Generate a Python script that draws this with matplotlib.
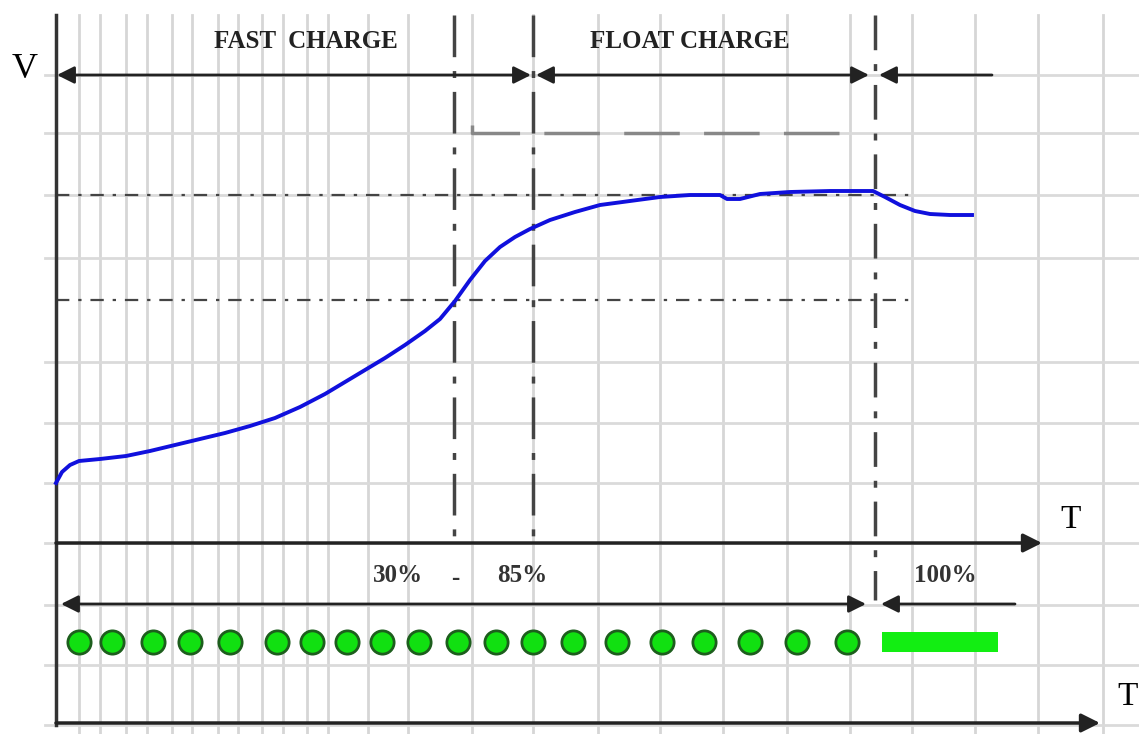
import matplotlib.pyplot as plt
import numpy as np

# chart units: x = time position, y = level (drawn top-down like the original sketch)
grid_x = [79, 100, 126, 147, 172, 192, 218, 238, 262, 283, 307, 328, 368, 408, 472,
          533, 598, 660, 723, 787, 850, 912, 975, 1038, 1103]
grid_y = [75, 133, 195, 258, 362, 423, 483, 543, 605, 665, 725]

curve_t = [56, 62, 70, 79, 100, 126, 150, 175, 200, 225, 250, 275, 300, 325, 345, 365,
           385, 405, 425, 440, 455, 470, 485, 500, 515, 530, 550, 575, 600, 630, 660,
           690, 720, 727, 740, 748, 760, 790, 830, 873, 885, 900, 915, 930, 950, 972]
curve_v = [483, 472, 465, 461, 459, 456, 451, 445, 439, 433, 426, 418, 407, 394, 382, 370,
           358, 345, 331, 319, 301, 280, 261, 247, 237, 229, 220, 212, 205, 201, 197,
           195, 195, 199, 199, 197, 194, 192, 191, 191, 197, 205, 211, 214, 215, 215]

phase_t = [454, 533, 875]       # 30%, 85%, 100% boundaries
level_v = [195, 300]            # dash-dot reference levels
led_t = [79, 112, 153, 190, 230, 277, 312, 347, 382, 419, 458, 496, 533, 573, 617,
         662, 704, 750, 797, 847]
led_row = 642

fig = plt.figure(figsize=(11.39, 7.34), dpi=100)
ax = fig.add_axes([0, 0, 1, 1])
ax.set_xlim(0, 1139)
ax.set_ylim(734, 0)
ax.axis('off')

# background grid
for gx in grid_x:
    ax.plot([gx, gx], [15, 734], color='#d6d6d6', lw=2, zorder=0)
for gy in grid_y:
    ax.plot([45, 1139], [gy, gy], color='#dadada', lw=2, zorder=0)

# axes
ax.plot([56, 56], [15, 725], color='#333333', lw=2.5, zorder=3)
arr = dict(arrowstyle='-|>', color='#222222', lw=2.5, mutation_scale=28, shrinkA=0, shrinkB=0)
ax.annotate('', xy=(1042, 543), xytext=(56, 543), arrowprops=arr, zorder=3)
ax.annotate('', xy=(1100, 723), xytext=(56, 723), arrowprops=arr, zorder=3)
ax.text(12, 70, 'V', fontsize=26, family='Liberation Serif', va='center')
ax.text(1060, 520, 'T', fontsize=24, family='Liberation Serif', va='center')
ax.text(1117, 697, 'T', fontsize=24, family='Liberation Serif', va='center')

# phase arrows, top
both = dict(arrowstyle='<|-|>', color='#222222', lw=2, mutation_scale=26, shrinkA=0, shrinkB=0)
one = dict(arrowstyle='-|>', color='#222222', lw=2, mutation_scale=26, shrinkA=0, shrinkB=0)
ax.annotate('', xy=(57, 75), xytext=(531, 75), arrowprops=both)
ax.annotate('', xy=(536, 75), xytext=(869, 75), arrowprops=both)
ax.annotate('', xy=(879, 75), xytext=(992, 75), arrowprops=one)
ax.text(306, 42, 'FAST  CHARGE', fontsize=18, family='Liberation Serif',
        weight='bold', ha='center', va='center', color='#222222')
ax.text(690, 42, 'FLOAT CHARGE', fontsize=18, family='Liberation Serif',
        weight='bold', ha='center', va='center', color='#222222')

# phase boundaries and levels
ax.plot([phase_t[0]] * 2, [15, 543], color='#444444', lw=2.5, dashes=[12, 4, 2, 4], zorder=2)
ax.plot([phase_t[1]] * 2, [15, 543], color='#444444', lw=2.5, dashes=[12, 4, 2, 4], zorder=2)
ax.plot([phase_t[2]] * 2, [15, 600], color='#444444', lw=2.5, dashes=[10, 4, 2, 4], zorder=2)
for lv in level_v:
    ax.plot([56, 912], [lv, lv], color='#444444', lw=1.6, dashes=[6, 4, 1.5, 4], zorder=2)
ax.plot([472, 472, 855], [125, 133, 133], color='#888888', lw=2.5, dashes=[16, 7], zorder=2)

# charge voltage curve
ax.plot(curve_t, curve_v, color='#1010dd', lw=2.8, zorder=4)

# lower indicator band
lbl = dict(fontsize=18, family='Liberation Serif', weight='bold',
           ha='center', va='center', color='#333333')
ax.text(398, 576, '30%', **lbl)
ax.text(455, 578, '-', **lbl)
ax.text(522, 576, '85%', **lbl)
ax.text(945, 576, '100%', **lbl)
ax.annotate('', xy=(61, 604), xytext=(866, 604), arrowprops=both)
ax.annotate('', xy=(881, 604), xytext=(1015, 604), arrowprops=one)

ax.scatter(led_t, [led_row] * len(led_t), s=280, marker='o', color='#11e011',
           edgecolors='#1d5e1d', linewidths=2, zorder=5)
ax.bar([940], [20], width=116, bottom=led_row - 10, color='#12ee12', zorder=5)

fig.savefig('out.png', dpi=100)
